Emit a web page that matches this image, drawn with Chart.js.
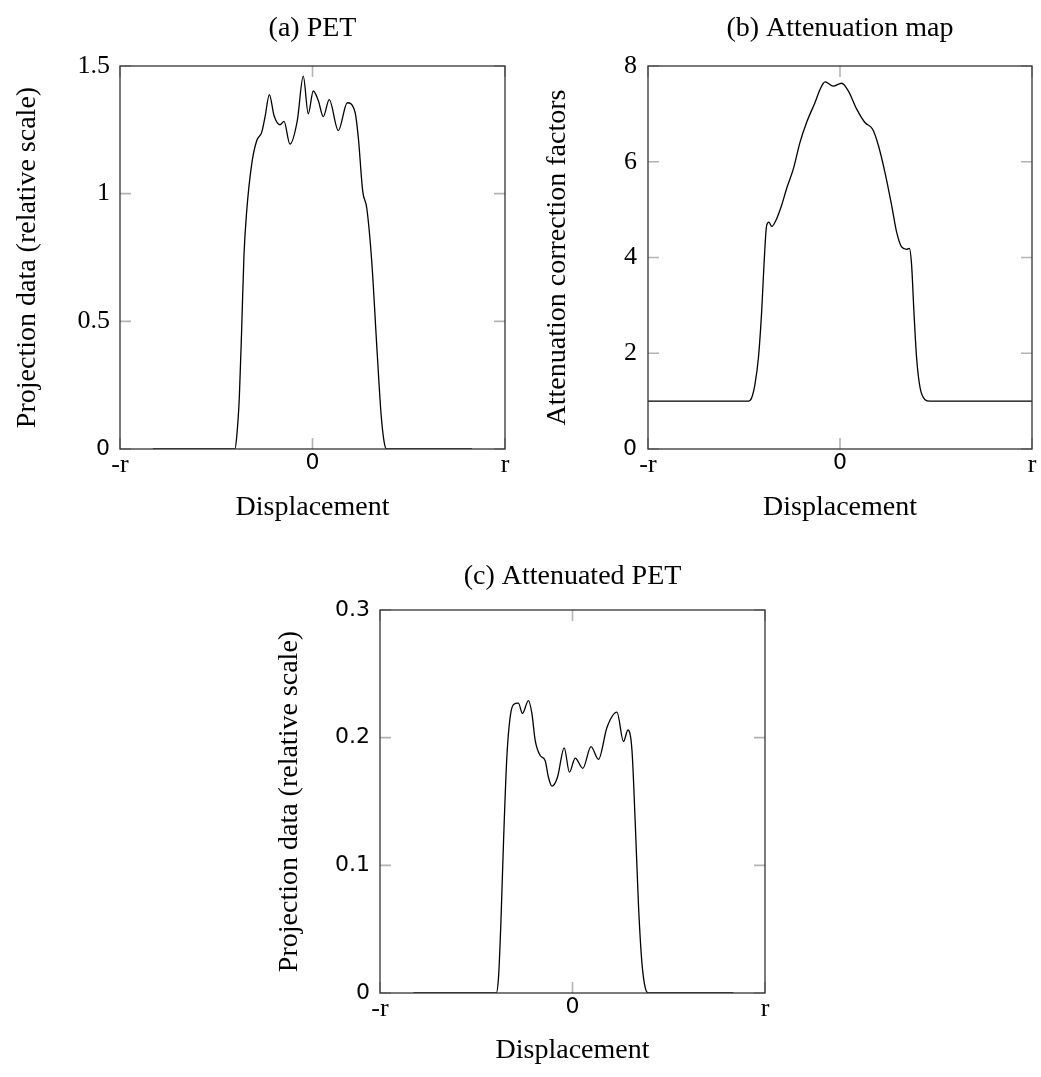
<!DOCTYPE html>
<html>
<head>
<meta charset="utf-8">
<script src="https://cdn.jsdelivr.net/npm/chart.js@4.4.1/dist/chart.umd.min.js"></script>
<style>
  body { margin: 0; background: #fff; }
  canvas { position: absolute; }
</style>
</head>
<body>
<canvas id="petChart" width="520" height="530" style="left:0;top:0"></canvas>
<canvas id="attnChart" width="521" height="530" style="left:520px;top:0"></canvas>
<canvas id="attPetChart" width="520" height="533" style="left:260px;top:544px"></canvas>
<script>
// displacement is normalised: -1 = -r, 1 = r
const xTickValues = [-1, 0, 1];
const xTickLabels = ['-r', '0', 'r'];

// (a) PET projection
const petX = [-0.829, -0.403, -0.394, -0.380, -0.368, -0.356, -0.342, -0.316, -0.290, -0.264, -0.247, -0.224, -0.200, -0.169, -0.148, -0.117, -0.079, -0.048, -0.022, 0.004, 0.030, 0.056, 0.087, 0.134, 0.181, 0.221, 0.238, 0.261, 0.282, 0.308, 0.334, 0.356, 0.371, 0.385, 0.829];
const petY = [0, 0, 0.046, 0.205, 0.468, 0.759, 0.930, 1.115, 1.207, 1.240, 1.299, 1.388, 1.306, 1.270, 1.283, 1.194, 1.286, 1.460, 1.313, 1.402, 1.365, 1.302, 1.368, 1.247, 1.356, 1.319, 1.220, 1.009, 0.943, 0.732, 0.402, 0.139, 0.033, 0, 0];
const petTicks = [0, 0.5, 1, 1.5];
const petTickLabels = ['0', '0.5', '1', '1.5'];

// (b) attenuation correction factors
const attnX = [-1, -0.477, -0.460, -0.443, -0.425, -0.408, -0.396, -0.382, -0.370, -0.356, -0.330, -0.304, -0.278, -0.243, -0.208, -0.174, -0.130, -0.104, -0.078, -0.035, 0.009, 0.043, 0.087, 0.130, 0.170, 0.200, 0.234, 0.269, 0.295, 0.321, 0.347, 0.361, 0.373, 0.385, 0.399, 0.417, 0.443, 0.469, 1];
const attnY = [1, 1, 1.07, 1.35, 1.90, 2.87, 3.84, 4.67, 4.74, 4.65, 4.81, 5.09, 5.44, 5.85, 6.41, 6.82, 7.24, 7.51, 7.67, 7.58, 7.64, 7.48, 7.10, 6.82, 6.68, 6.34, 5.78, 5.09, 4.53, 4.22, 4.17, 4.19, 3.84, 2.87, 1.90, 1.28, 1.03, 1, 1];
const attnTicks = [0, 2, 4, 6, 8];
const attnTickLabels = ['0', '2', '4', '6', '8'];

// (c) attenuated PET
const attPetX = [-0.826, -0.396, -0.384, -0.372, -0.358, -0.341, -0.324, -0.306, -0.281, -0.260, -0.229, -0.211, -0.194, -0.168, -0.142, -0.125, -0.107, -0.078, -0.043, -0.016, 0.014, 0.054, 0.096, 0.135, 0.179, 0.231, 0.265, 0.288, 0.309, 0.326, 0.343, 0.361, 0.378, 0.395, 0.836];
const attPetY = [0, 0, 0.013, 0.055, 0.120, 0.185, 0.216, 0.226, 0.227, 0.219, 0.229, 0.219, 0.198, 0.186, 0.182, 0.169, 0.162, 0.169, 0.192, 0.173, 0.184, 0.176, 0.193, 0.183, 0.208, 0.220, 0.197, 0.206, 0.190, 0.133, 0.068, 0.023, 0.004, 0, 0];
const attPetTicks = [0, 0.1, 0.2, 0.3];
const attPetTickLabels = ['0', '0.1', '0.2', '0.3'];

const SERIF = '"Liberation Serif", "Times New Roman", serif';
const SANS = '"DejaVu Sans", sans-serif';
const serifTick = { family: SERIF, size: 26 };
const sansTick = { family: SANS, size: 22 };
const labelFont = { family: SERIF, size: 28, weight: 'normal' };

// inward tick marks on all four sides + the box
const frameTicks = {
    id: 'frameTicks',
    beforeDatasetsDraw(chart) {
        const { ctx, chartArea: a, scales: { x, y } } = chart;
        const len = 11;
        ctx.save();
        ctx.strokeStyle = '#b4b4b4';
        ctx.lineWidth = 1.6;
        ctx.beginPath();
        x.ticks.forEach(t => {
            const px = x.getPixelForValue(t.value);
            ctx.moveTo(px, a.bottom); ctx.lineTo(px, a.bottom - len);
            ctx.moveTo(px, a.top); ctx.lineTo(px, a.top + len);
        });
        y.ticks.forEach(t => {
            const py = y.getPixelForValue(t.value);
            ctx.moveTo(a.left, py); ctx.lineTo(a.left + len, py);
            ctx.moveTo(a.right, py); ctx.lineTo(a.right - len, py);
        });
        ctx.stroke();
        ctx.restore();
    },
    afterDatasetsDraw(chart) {
        const { ctx, chartArea: a } = chart;
        ctx.save();
        ctx.strokeStyle = '#333';
        ctx.lineWidth = 1.3;
        ctx.strokeRect(a.left, a.top, a.right - a.left, a.bottom - a.top);
        ctx.restore();
    }
};

function makeChart(id, cfg) {
    const yLabelOf = v => cfg.yLabels[cfg.yTicks.indexOf(v)];
    return new Chart(document.getElementById(id), {
        type: 'line',
        data: {
            datasets: [{
                data: cfg.xs.map((x, i) => ({ x: x, y: cfg.ys[i] })),
                borderColor: '#000',
                borderWidth: 1.3,
                pointRadius: 0,
                fill: false,
                cubicInterpolationMode: 'monotone'
            }]
        },
        options: {
            responsive: false,
            animation: false,
            devicePixelRatio: 1,
            layout: { padding: { left: 0, right: cfg.rightPad, top: 0, bottom: 0 } },
            plugins: {
                legend: { display: false },
                tooltip: { enabled: false },
                title: {
                    display: true,
                    text: cfg.title,
                    fullSize: false,
                    color: '#000',
                    font: labelFont,
                    padding: { top: cfg.titleTop, bottom: 32.4 - cfg.titleTop }
                }
            },
            scales: {
                x: {
                    type: 'linear',
                    min: -1,
                    max: 1,
                    afterBuildTicks: s => { s.ticks = xTickValues.map(v => ({ value: v })); },
                    afterFit: s => { s.height = cfg.xAxisHeight; },
                    grid: { display: false, drawTicks: false },
                    border: { display: false },
                    ticks: {
                        autoSkip: false,
                        maxRotation: 0,
                        padding: 1,
                        color: '#000',
                        callback: v => xTickLabels[xTickValues.indexOf(v)],
                        font: c => (c.tick && c.tick.value === 0) ? sansTick : serifTick
                    },
                    title: {
                        display: true,
                        text: 'Displacement',
                        color: '#000',
                        font: labelFont,
                        padding: { top: 0, bottom: cfg.xTitlePad }
                    }
                },
                y: {
                    type: 'linear',
                    min: 0,
                    max: cfg.yTicks[cfg.yTicks.length - 1],
                    afterBuildTicks: s => { s.ticks = cfg.yTicks.map(v => ({ value: v })); },
                    afterFit: s => { s.width = cfg.yAxisWidth; },
                    grid: { display: false, drawTicks: false },
                    border: { display: false },
                    ticks: {
                        autoSkip: false,
                        padding: cfg.yTickPad,
                        color: '#000',
                        callback: v => yLabelOf(v),
                        font: c => (cfg.ySans || (c.tick && c.tick.value === 0)) ? sansTick : serifTick
                    },
                    title: {
                        display: true,
                        text: cfg.yTitle,
                        color: '#000',
                        font: labelFont,
                        padding: { top: cfg.yTitlePad, bottom: 0 }
                    }
                }
            }
        },
        plugins: [frameTicks]
    });
}

makeChart('petChart', {
    title: '(a) PET', yTitle: 'Projection data (relative scale)',
    xs: petX, ys: petY, yTicks: petTicks, yLabels: petTickLabels, ySans: false,
    yAxisWidth: 120, xAxisHeight: 81, rightPad: 15, yTickPad: 10, yTitlePad: 11,
    xTitlePad: 6, titleTop: 12
});

makeChart('attnChart', {
    title: '(b) Attenuation map', yTitle: 'Attenuation correction factors',
    xs: attnX, ys: attnY, yTicks: attnTicks, yLabels: attnTickLabels, ySans: false,
    yAxisWidth: 128, xAxisHeight: 81, rightPad: 9, yTickPad: 11, yTitlePad: 21,
    xTitlePad: 6, titleTop: 12
});

makeChart('attPetChart', {
    title: '(c) Attenuated PET', yTitle: 'Projection data (relative scale)',
    xs: attPetX, ys: attPetY, yTicks: attPetTicks, yLabels: attPetTickLabels, ySans: true,
    yAxisWidth: 120, xAxisHeight: 84, rightPad: 15, yTickPad: 10, yTitlePad: 13,
    xTitlePad: 10, titleTop: 16
});
</script>
</body>
</html>
